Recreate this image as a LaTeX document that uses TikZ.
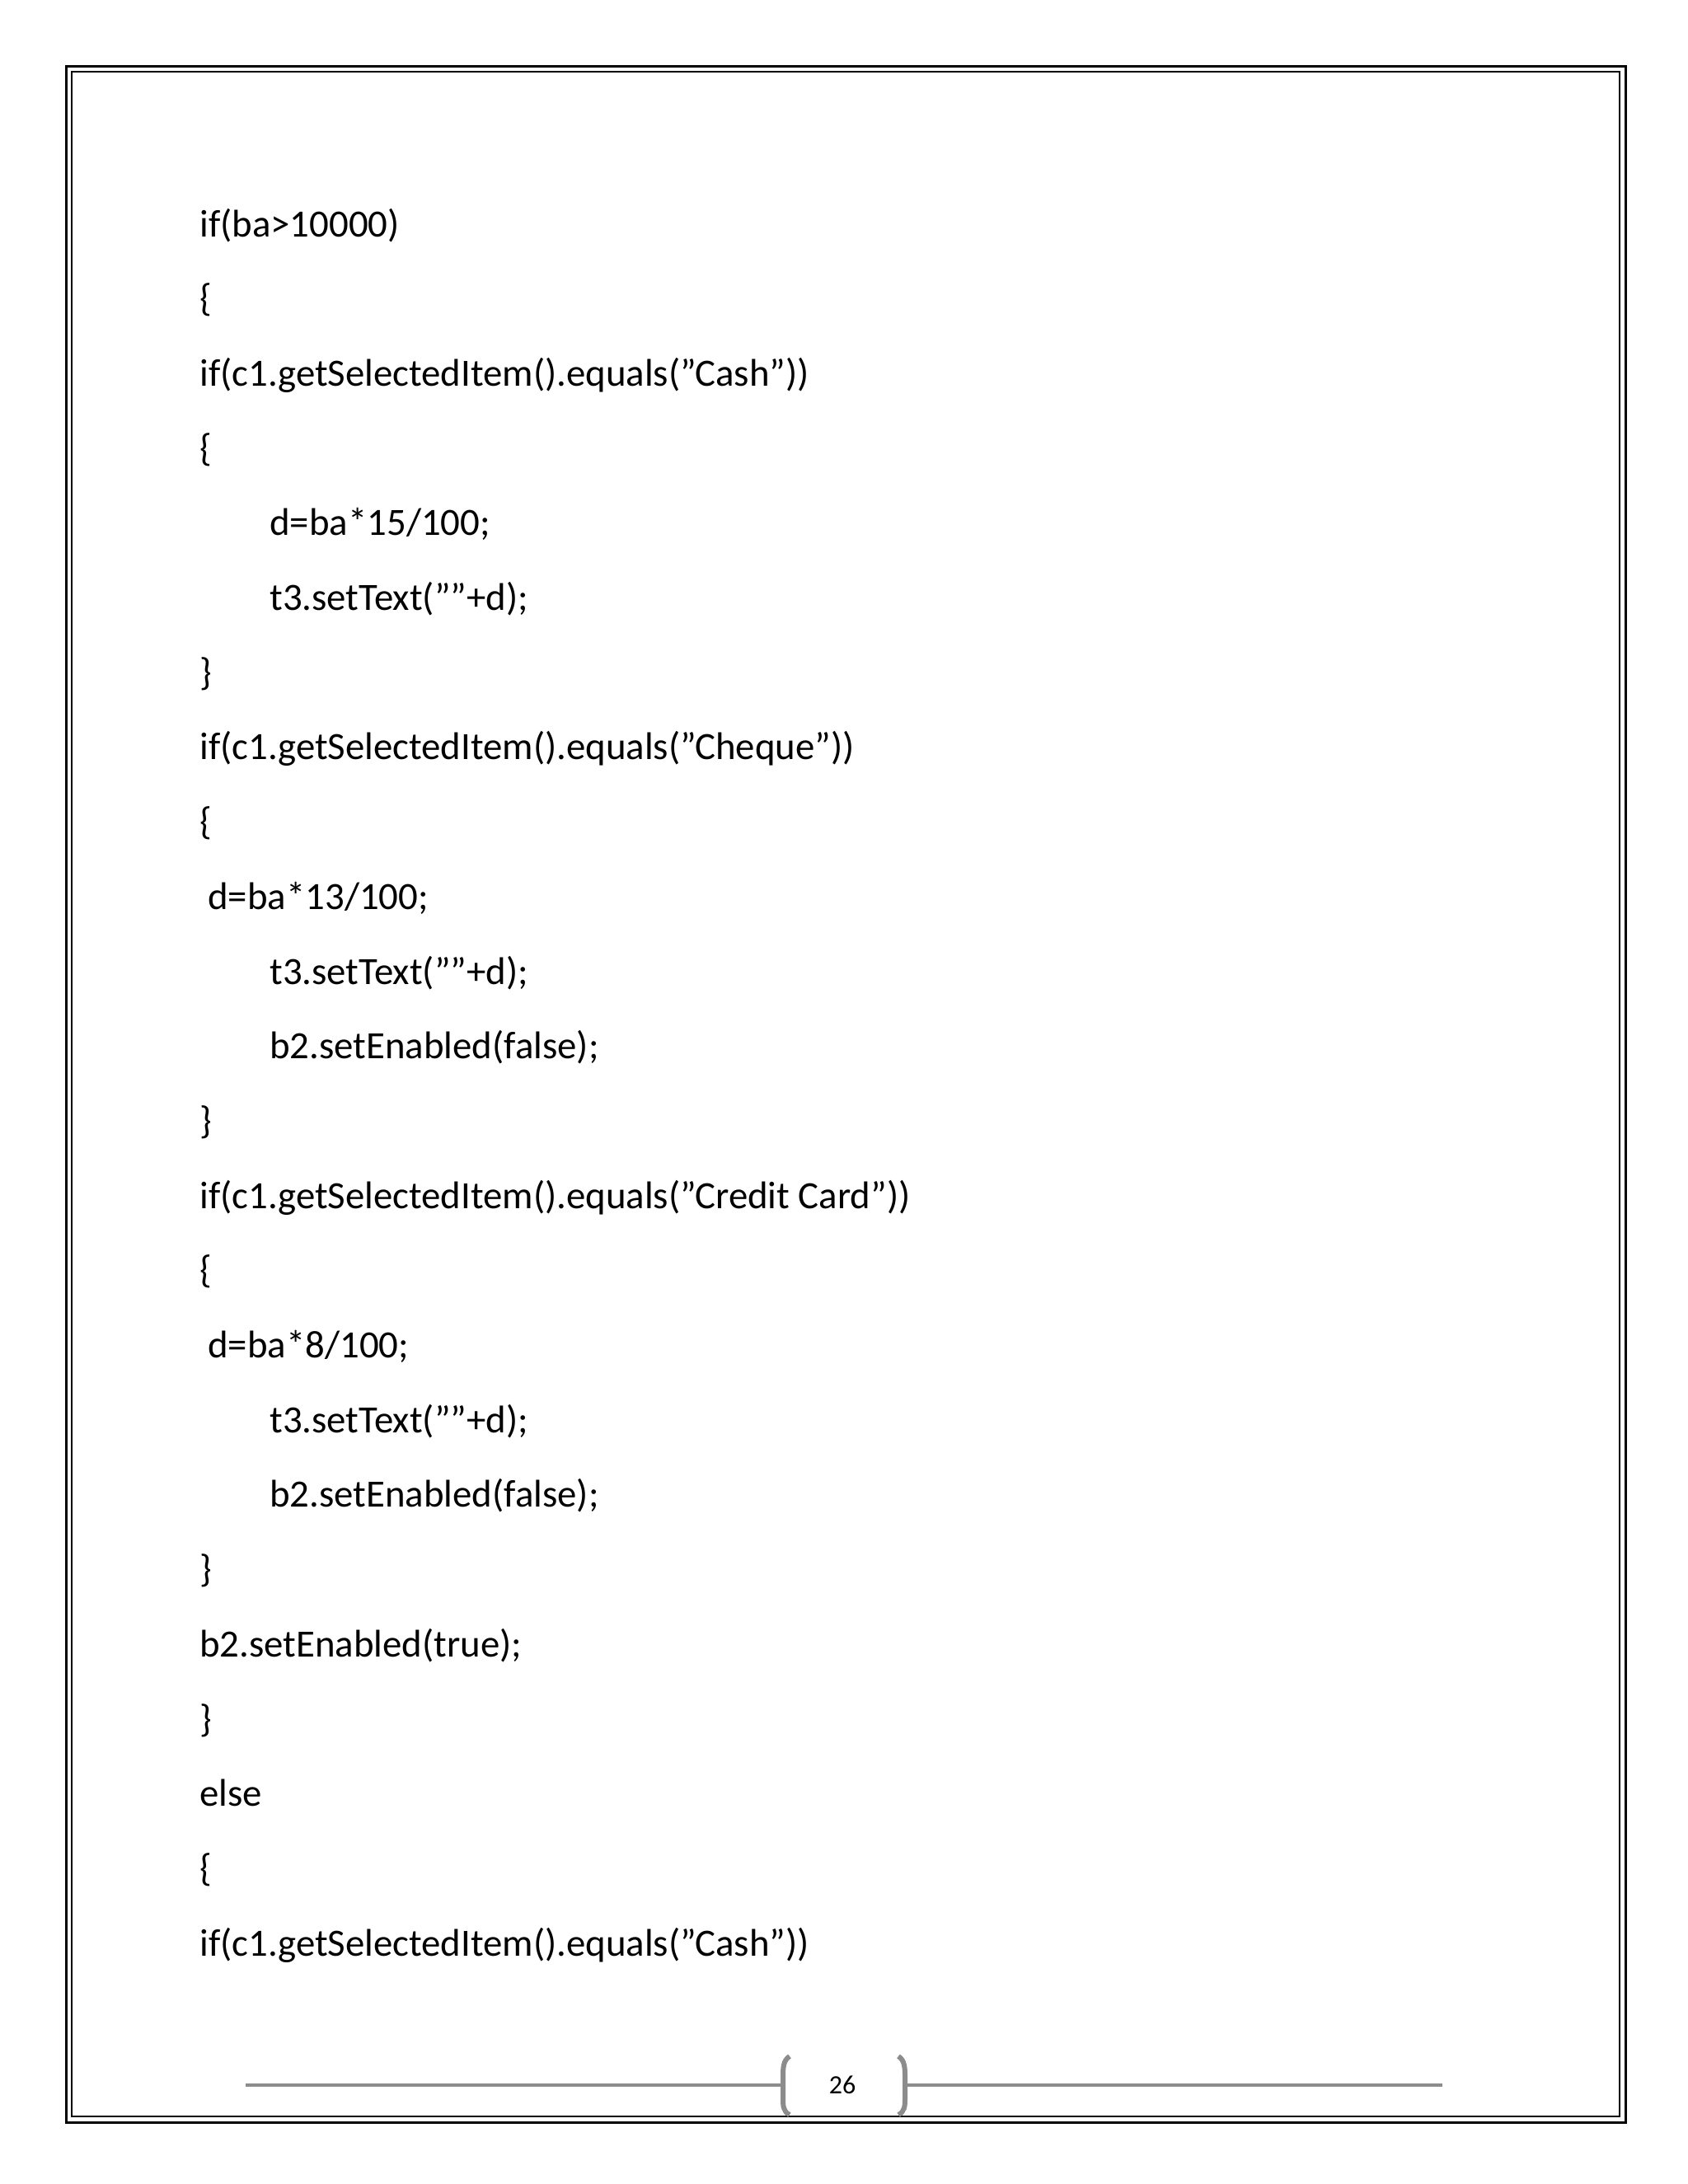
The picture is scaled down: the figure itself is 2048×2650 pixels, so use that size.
\documentclass[tikz,border=0pt]{standalone}
\usepackage{fontspec}
\setmainfont{Carlito}
\newcommand\qq{\char"22\relax}
\begin{document}
\begin{tikzpicture}[x=0.5pt,y=-0.5pt,
  code/.style={anchor=west,inner sep=0pt,font=\fontsize{23.4}{28}\selectfont,text height=0.72em,text depth=0.22em},
  frame/.style={draw=black},
  foot/.style={draw=gray!90,line width=2pt}]
\useasboundingbox (0,0) rectangle (2048,2650);
\fill[white] (0,0) rectangle (2048,2650);
\draw[frame,line width=1.5pt] (80,80) rectangle (1972,2575);
\draw[frame,line width=0.8pt] (87,87) rectangle (1965,2568);
\def\L{242}\def\I{327}\def\S{252}
\foreach \n/\xx/\t [count=\i from 0] in {
 a/\L/{if(ba>10000)}, b/\L/{\{}, c/\L/{if(c1.getSelectedItem().equals(\qq Cash\qq))}, d/\L/{\{},
 e/\I/{d=ba*15/100;}, f/\I/{t3.setText(\qq\qq+d);}, g/\L/{\}}, h/\L/{if(c1.getSelectedItem().equals(\qq Cheque\qq))},
 i/\L/{\{}, j/\S/{d=ba*13/100;}, k/\I/{t3.setText(\qq\qq+d);}, l/\I/{b2.setEnabled(false);},
 m/\L/{\}}, n/\L/{if(c1.getSelectedItem().equals(\qq Credit Card\qq))}, o/\L/{\{}, p/\S/{d=ba*8/100;},
 q/\I/{t3.setText(\qq\qq+d);}, r/\I/{b2.setEnabled(false);}, s/\L/{\}}, t/\L/{b2.setEnabled(true);},
 u/\L/{\}}, v/\L/{else}, w/\L/{\{}, z/\L/{if(c1.getSelectedItem().equals(\qq Cash\qq))}}
  \node[code] (l\n) at (\xx,{282+\i*90.7}) {\t};
% footer
\node[inner sep=0pt,font=\fontsize{16}{18}\selectfont] (pg) at (1022,2530) {26};
\coordinate (la) at (298,2530); \coordinate (lb) at (948,2530);
\coordinate (ra) at (1097,2530); \coordinate (rb) at (1750,2530);
\draw[foot] (la) -- (lb); \draw[foot] (ra) -- (rb);
\draw[foot,line width=3pt] (958,2495) .. controls (950,2500) and (950,2510) .. (950,2520) -- (950,2545) .. controls (950,2555) and (950,2562) .. (958,2566);
\draw[foot,line width=3pt] (1090,2495) .. controls (1098,2500) and (1098,2510) .. (1098,2520) -- (1098,2545) .. controls (1098,2555) and (1098,2562) .. (1090,2566);
\end{tikzpicture}
\end{document}
